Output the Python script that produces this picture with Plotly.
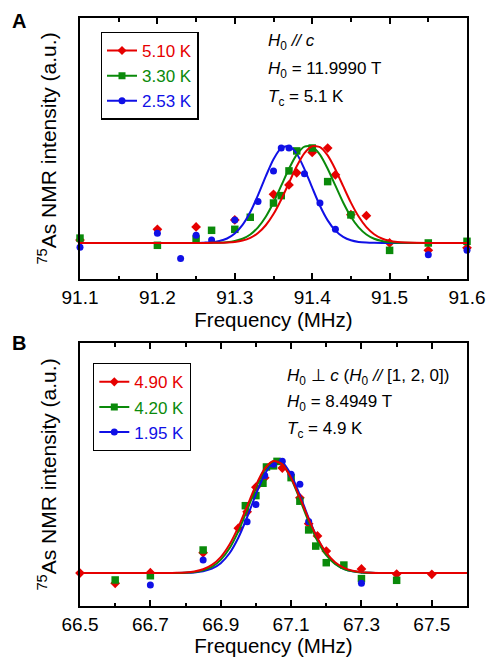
import plotly.graph_objects as go

# ---------------- Panel A data (H0 // c) ----------------
a_red_x = [91.10, 91.20, 91.25, 91.30, 91.35, 91.37, 91.38, 91.40, 91.42, 91.43, 91.45, 91.47, 91.50, 91.55, 91.60]
a_red_y = [0.03, 0.14, 0.165, 0.236, 0.50, 0.596, 0.72, 0.93, 0.975, 0.70, 0.29, 0.28, 0.00, -0.076, -0.05]

a_green_x = [91.10, 91.20, 91.25, 91.27, 91.30, 91.32, 91.35, 91.36, 91.37, 91.38, 91.40, 91.42, 91.45, 91.50, 91.55, 91.60]
a_green_y = [0.05, -0.024, 0.04, 0.13, 0.14, 0.264, 0.41, 0.486, 0.74, 0.945, 0.975, 0.63, 0.288, -0.076, 0.0, 0.017]

a_blue_x = [91.10, 91.20, 91.23, 91.25, 91.27, 91.30, 91.33, 91.35, 91.36, 91.37, 91.39, 91.41, 91.43, 91.55, 91.60]
a_blue_y = [-0.045, 0.10, -0.16, 0.08, 0.03, 0.236, 0.425, 0.74, 0.975, 0.975, 0.71, 0.41, 0.14, -0.12, -0.076]

# fit curves (Panel A)
a_fit_x = [91.10, 91.15, 91.20, 91.25, 91.26, 91.27, 91.28, 91.29, 91.30, 91.31, 91.32, 91.33, 91.34,
           91.35, 91.36, 91.37, 91.38, 91.39, 91.40, 91.41, 91.42, 91.43, 91.44, 91.45, 91.46,
           91.47, 91.48, 91.49, 91.50, 91.51, 91.52, 91.55, 91.60]
a_fit_red = [0, 0, 0, 0, 0.000, 0.001, 0.002, 0.005, 0.011, 0.025, 0.053, 0.102, 0.182,
             0.297, 0.447, 0.618, 0.787, 0.922, 0.993, 0.985, 0.899, 0.755, 0.583, 0.414, 0.271,
             0.163, 0.090, 0.046, 0.022, 0.009, 0.004, 0, 0]
a_fit_green = [0, 0, 0, 0, 0.000, 0.001, 0.003, 0.008, 0.020, 0.043, 0.087, 0.160, 0.269,
               0.415, 0.588, 0.762, 0.907, 0.989, 0.989, 0.907, 0.762, 0.588, 0.415, 0.269, 0.160,
               0.087, 0.043, 0.020, 0.008, 0.003, 0.001, 0, 0]
a_fit_blue = [0, 0, 0, 0, 0.003, 0.007, 0.020, 0.046, 0.097, 0.185, 0.317, 0.491, 0.684,
              0.860, 0.975, 0.995, 0.916, 0.759, 0.568, 0.382, 0.232, 0.127, 0.063, 0.028, 0.011,
              0.004, 0.001, 0, 0, 0, 0, 0, 0]

a_labels = ["5.10 K", "3.30 K", "2.53 K"]

# ---------------- Panel B data (H0 ⊥ c) ----------------
b_red_x = [66.50, 66.60, 66.70, 66.85, 66.95, 66.975, 67.00, 67.025, 67.075, 67.125, 67.15, 67.175, 67.20, 67.30, 67.40, 67.50]
b_red_y = [0.0, -0.092, 0.003, 0.18, 0.40, 0.546, 0.765, 0.85, 0.935, 0.67, 0.44, 0.33, 0.196, 0.036, -0.009, -0.012]

b_green_x = [66.60, 66.70, 66.85, 66.97, 67.00, 67.02, 67.03, 67.05, 67.06, 67.10, 67.125, 67.15, 67.17, 67.20, 67.25, 67.30, 67.40]
b_green_y = [-0.062, -0.024, 0.205, 0.60, 0.69, 0.80, 0.945, 0.955, 0.995, 0.85, 0.64, 0.384, 0.24, 0.092, 0.071, -0.05, -0.065]

b_blue_x = [66.70, 66.85, 66.975, 67.00, 67.025, 67.05, 67.075, 67.10, 67.125, 67.15, 67.30]
b_blue_y = [-0.107, 0.116, 0.457, 0.61, 0.87, 0.97, 0.995, 0.88, 0.79, 0.458, -0.092]

b_fit_x = [66.50, 66.60, 66.70, 66.75, 66.775, 66.80, 66.825, 66.85, 66.875, 66.90, 66.925, 66.95, 66.975,
           67.00, 67.025, 67.05, 67.075, 67.10, 67.125, 67.15, 67.175, 67.20, 67.225, 67.25,
           67.275, 67.30, 67.325, 67.35, 67.45, 67.60]
b_fit_red = [0, 0, 0, 0.0005, 0.0017, 0.0051, 0.0137, 0.033, 0.072, 0.142, 0.254, 0.409, 0.595,
             0.782, 0.930, 0.998, 0.968, 0.848, 0.672, 0.481, 0.311, 0.182, 0.096, 0.046,
             0.020, 0.008, 0.003, 0.001, 0, 0]
b_fit_green = [0, 0, 0, 0.0003, 0.0009, 0.0031, 0.009, 0.024, 0.055, 0.117, 0.220, 0.371, 0.560,
               0.758, 0.919, 0.997, 0.969, 0.843, 0.657, 0.458, 0.286, 0.160, 0.080, 0.036,
               0.015, 0.005, 0.002, 0.0005, 0, 0]
b_fit_blue = [0, 0, 0, 0.0001, 0.0005, 0.0018, 0.0056, 0.016, 0.039, 0.088, 0.176, 0.314, 0.497,
              0.701, 0.881, 0.987, 0.985, 0.875, 0.693, 0.489, 0.307, 0.172, 0.086, 0.038,
              0.015, 0.005, 0.002, 0.0005, 0, 0]

b_labels = ["4.90 K", "4.20 K", "1.95 K"]

RED, GREEN, BLUE = "#e60000", "#0a8a0a", "#1010e6"
FONT = "Liberation Sans, Arial, sans-serif"

fig = go.Figure()

def add_panel(xa, ya, legend, fit_x, fits, pts, labels):
    colors = [RED, GREEN, BLUE]
    symbols = ["diamond", "square", "circle"]
    # data points
    for (px, py), c, s in zip(pts, colors, symbols):
        fig.add_trace(go.Scatter(x=px, y=py, mode="markers", xaxis=xa, yaxis=ya,
                                 marker=dict(symbol=s, size=7.5 if s != "circle" else 7, color=c, line=dict(width=0)),
                                 cliponaxis=False, showlegend=False))
    # fits
    for fy, c in zip(fits[::-1], colors[::-1]):
        fig.add_trace(go.Scatter(x=fit_x, y=fy, mode="lines", xaxis=xa, yaxis=ya,
                                 line=dict(color=c, width=2, shape="spline", smoothing=0.7),
                                 cliponaxis=False, showlegend=False))
    # legend entries
    for lab, c, s in zip(labels, colors, symbols):
        fig.add_trace(go.Scatter(x=[None], y=[None], mode="lines+markers", xaxis=xa, yaxis=ya,
                                 marker=dict(symbol=s, size=7, color=c), line=dict(color=c, width=2),
                                 name=f"<span style='color:{c}'>{lab}</span>", legend=legend))

add_panel("x", "y", "legend", a_fit_x, [a_fit_red, a_fit_green, a_fit_blue],
          [(a_red_x, a_red_y), (a_green_x, a_green_y), (a_blue_x, a_blue_y)], a_labels)
add_panel("x2", "y2", "legend2", b_fit_x, [b_fit_red, b_fit_green, b_fit_blue],
          [(b_red_x, b_red_y), (b_green_x, b_green_y), (b_blue_x, b_blue_y)], b_labels)

W, H = 487, 657
dx = [80 / W, 467 / W]
dyA = [1 - 279 / H, 1 - 18 / H]
dyB = [1 - 606 / H, 1 - 343 / H]

xcommon = dict(showline=True, linecolor="black", linewidth=2, mirror="ticks",
               ticks="inside", ticklen=6, tickwidth=1.5, tickcolor="black",
               showgrid=False, zeroline=False, automargin=False,
               tickfont=dict(family=FONT, size=19, color="black"),
               title_font=dict(family=FONT, size=20.5, color="black"),
               title_standoff=2)
ycommon = dict(showline=True, linecolor="black", linewidth=2, mirror=True, automargin=False,
               ticks="", showticklabels=False, showgrid=False, zeroline=False,
               title=dict(text="<sup>75</sup>As NMR intensity (a.u.)",
                          font=dict(family=FONT, size=21, color="black"), standoff=16))

fig.update_layout(
    width=W, height=H, margin=dict(l=0, r=0, t=0, b=0, autoexpand=False),
    paper_bgcolor="white", plot_bgcolor="white",
    xaxis=dict(domain=dx, anchor="y", range=[91.1, 91.6], tickvals=[91.1, 91.2, 91.3, 91.4, 91.5, 91.6],
               ticktext=["91.1", "91.2", "91.3", "91.4", "91.5", "91.6"],
               minor=dict(ticks="inside", ticklen=3.5, dtick=0.05, tick0=91.1, tickcolor="black", showgrid=False),
               title=dict(text="Frequency (MHz)"), **xcommon),
    yaxis=dict(domain=dyA, anchor="x", range=[-0.37, 2.31], **ycommon),
    xaxis2=dict(domain=dx, anchor="y2", range=[66.5, 67.6], tickvals=[66.5, 66.7, 66.9, 67.1, 67.3, 67.5],
                ticktext=["66.5", "66.7", "66.9", "67.1", "67.3", "67.5"],
                minor=dict(ticks="inside", ticklen=3.5, dtick=0.1, tick0=66.5, tickcolor="black", showgrid=False),
                title=dict(text="Frequency (MHz)"), **xcommon),
    yaxis2=dict(domain=dyB, anchor="x2", range=[-0.294, 2.05], **ycommon),
    legend=dict(x=100.7 / W, y=1 - 31.7 / H, xanchor="left", yanchor="top",
                bordercolor="black", borderwidth=1.3, bgcolor="white",
                font=dict(family=FONT, size=17), tracegroupgap=0, itemwidth=30),
    legend2=dict(x=93 / W, y=1 - 363 / H, xanchor="left", yanchor="top",
                 bordercolor="black", borderwidth=1.3, bgcolor="white",
                 font=dict(family=FONT, size=17), tracegroupgap=0, itemwidth=30),
    showlegend=True,
)

def txt(x, y, t, size=17):
    fig.add_annotation(x=x / W, y=1 - y / H, xref="paper", yref="paper", text=t,
                       showarrow=False, xanchor="left", yanchor="middle",
                       font=dict(family=FONT, size=size, color="black"))

txt(10, 21, "<b>A</b>", size=20)
txt(10, 343, "<b>B</b>", size=20)

txt(266, 42, "<i>H</i><sub>0</sub> <i>//</i> <i>c</i>")
txt(266, 70, "<i>H</i><sub>0</sub> = 11.9990 T")
txt(266, 98, "<i>T</i><sub>c</sub> = 5.1 K")

txt(285, 377, "<i>H</i><sub>0</sub> ⊥ <i>c</i> (<i>H</i><sub>0</sub> <i>//</i> [1, 2, 0])")
txt(285, 403, "<i>H</i><sub>0</sub> = 8.4949 T")
txt(285, 430, "<i>T</i><sub>c</sub> = 4.9 K")

fig.write_html("out.html")
